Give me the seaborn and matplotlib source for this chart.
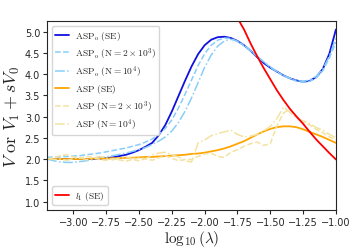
import numpy as np
import seaborn as sns
import matplotlib.pyplot as plt

# x grid: log10(lambda) from -3.2 to -1.0
log_lam = np.round(np.linspace(-3.2, -1.0, 45), 2)

# ASP_o, semi-analytic (SE)
aspo_se = [2.00, 2.00, 2.00, 2.00, 2.00, 2.00, 2.00, 2.00, 2.01, 2.02,
           2.04, 2.07, 2.10, 2.15, 2.21, 2.29, 2.38, 2.56, 2.80, 3.12,
           3.48, 3.84, 4.18, 4.47, 4.68, 4.81, 4.87, 4.88, 4.85, 4.78,
           4.68, 4.55, 4.40, 4.26, 4.15, 4.06, 3.97, 3.90, 3.85, 3.82,
           3.84, 3.93, 4.12, 4.48, 5.05]
# ASP_o, N = 2e3
aspo_n2k = [2.04, 2.05, 2.05, 2.06, 2.07, 2.08, 2.10, 2.12, 2.14, 2.17,
            2.20, 2.23, 2.26, 2.30, 2.34, 2.40, 2.47, 2.58, 2.72, 2.92,
            3.20, 3.52, 3.86, 4.20, 4.48, 4.68, 4.80, 4.85, 4.84, 4.77,
            4.67, 4.56, 4.41, 4.29, 4.16, 4.06, 3.96, 3.90, 3.83, 3.81,
            3.83, 3.91, 4.08, 4.38, 4.75]
# ASP_o, N = 1e4
aspo_n10k = [2.00, 1.96, 1.93, 1.92, 1.92, 1.94, 1.96, 1.99, 2.02, 2.05,
             2.08, 2.11, 2.14, 2.18, 2.22, 2.27, 2.34, 2.42, 2.52, 2.66,
             2.86, 3.12, 3.44, 3.80, 4.16, 4.45, 4.66, 4.78, 4.82, 4.77,
             4.68, 4.55, 4.42, 4.29, 4.17, 4.06, 3.97, 3.90, 3.85, 3.83,
             3.86, 3.95, 4.12, 4.42, 4.85]
# ASP, semi-analytic (SE)
asp_se = [2.00, 2.00, 2.00, 2.00, 2.00, 2.00, 2.00, 2.01, 2.01, 2.01,
          2.02, 2.02, 2.03, 2.03, 2.04, 2.05, 2.05, 2.06, 2.07, 2.08,
          2.09, 2.10, 2.12, 2.13, 2.15, 2.18, 2.21, 2.25, 2.30, 2.36,
          2.42, 2.50, 2.58, 2.65, 2.71, 2.75, 2.77, 2.77, 2.75, 2.70,
          2.64, 2.58, 2.52, 2.45, 2.38]
# ASP, N = 2e3
asp_n2k = [2.00, 2.03, 2.08, 2.10, 2.05, 2.02, 2.06, 2.04, 1.99, 1.97,
           2.01, 1.98, 1.95, 1.99, 1.96, 2.01, 1.97, 2.03, 2.08, 2.02,
           1.96, 1.99, 1.99, 2.06, 2.12, 2.14, 2.06, 2.04, 2.16, 2.22,
           2.30, 2.36, 2.40, 2.32, 2.36, 2.78, 3.08, 3.18, 2.98, 2.86,
           2.80, 2.70, 2.62, 2.52, 2.45]
# ASP, N = 1e4
asp_n10k = [2.02, 1.99, 2.00, 1.97, 2.01, 2.04, 1.98, 2.02, 2.06, 2.03,
            1.98, 2.02, 2.05, 2.01, 2.04, 2.00, 2.10, 2.14, 2.16, 2.10,
            2.05, 1.96, 1.93, 2.38, 2.45, 2.55, 2.60, 2.64, 2.68, 2.58,
            2.52, 2.54, 2.58, 2.66, 2.77, 2.95, 3.22, 3.10, 2.96, 2.90,
            2.84, 2.74, 2.68, 2.58, 2.50]

# l_1 (SE), only on the right part
l1_x = [-1.80, -1.75, -1.70, -1.65, -1.60, -1.55, -1.50, -1.45, -1.40,
        -1.35, -1.30, -1.25, -1.20, -1.15, -1.10, -1.05, -1.00]
l1_se = [5.62, 5.32, 5.05, 4.72, 4.42, 4.14, 3.88, 3.62, 3.39,
         3.18, 3.00, 2.83, 2.64, 2.46, 2.30, 2.14, 1.99]

sns.set_style("ticks")
plt.rcParams['mathtext.fontset'] = 'cm'

fig, ax = plt.subplots(figsize=(3.57, 2.53), dpi=100)
fig.subplots_adjust(left=0.132, right=0.941, bottom=0.166, top=0.913)

lightblue = "#87cefa"
paleyellow = "#f2e3a2"

sns.lineplot(x=log_lam, y=aspo_se, ax=ax, color="#1010e0", lw=1.3,
             label=r"$\mathrm{ASP_o\ (SE)}$")
sns.lineplot(x=log_lam, y=aspo_n2k, ax=ax, color=lightblue, lw=1.1, linestyle="--",
             label=r"$\mathrm{ASP_o\ (N=2\times10^3)}$")
sns.lineplot(x=log_lam, y=aspo_n10k, ax=ax, color=lightblue, lw=1.1, linestyle="-.",
             label=r"$\mathrm{ASP_o\ (N=10^4)}$")
sns.lineplot(x=log_lam, y=asp_se, ax=ax, color="orange", lw=1.3,
             label=r"$\mathrm{ASP\ (SE)}$")
sns.lineplot(x=log_lam, y=asp_n2k, ax=ax, color=paleyellow, lw=1.1, linestyle="--",
             label=r"$\mathrm{ASP\ (N=2\times10^3)}$")
sns.lineplot(x=log_lam, y=asp_n10k, ax=ax, color=paleyellow, lw=1.1, linestyle="-.",
             label=r"$\mathrm{ASP\ (N=10^4)}$")
sns.lineplot(x=l1_x, y=l1_se, ax=ax, color="red", lw=1.3,
             label=r"$l_1\ \mathrm{(SE)}$")

ax.set_xlim(-3.2, -1.0)
ax.set_ylim(0.8, 5.25)
ax.set_xticks([-3.0, -2.75, -2.5, -2.25, -2.0, -1.75, -1.5, -1.25, -1.0])
ax.set_yticks([1.0, 1.5, 2.0, 2.5, 3.0, 3.5, 4.0, 4.5, 5.0])
ax.tick_params(labelsize=7, length=3, pad=2)
ax.set_xlabel(r"$\log_{10}(\lambda)$", fontsize=11, labelpad=1)
ax.set_ylabel(r"$V\ \mathrm{or}\ V_1 + sV_0$", fontsize=13, labelpad=2)

handles, labels = ax.get_legend_handles_labels()
leg1 = ax.legend(handles[:6], labels[:6], loc="upper left", fontsize=6.8,
                 handlelength=1.5, handletextpad=0.6, labelspacing=0.32,
                 borderpad=0.35)
ax.add_artist(leg1)
ax.legend(handles[6:], labels[6:], loc="lower left", fontsize=6.8, handlelength=1.5,
          handletextpad=0.6, borderpad=0.35)

fig.savefig("out.png", dpi=100)
